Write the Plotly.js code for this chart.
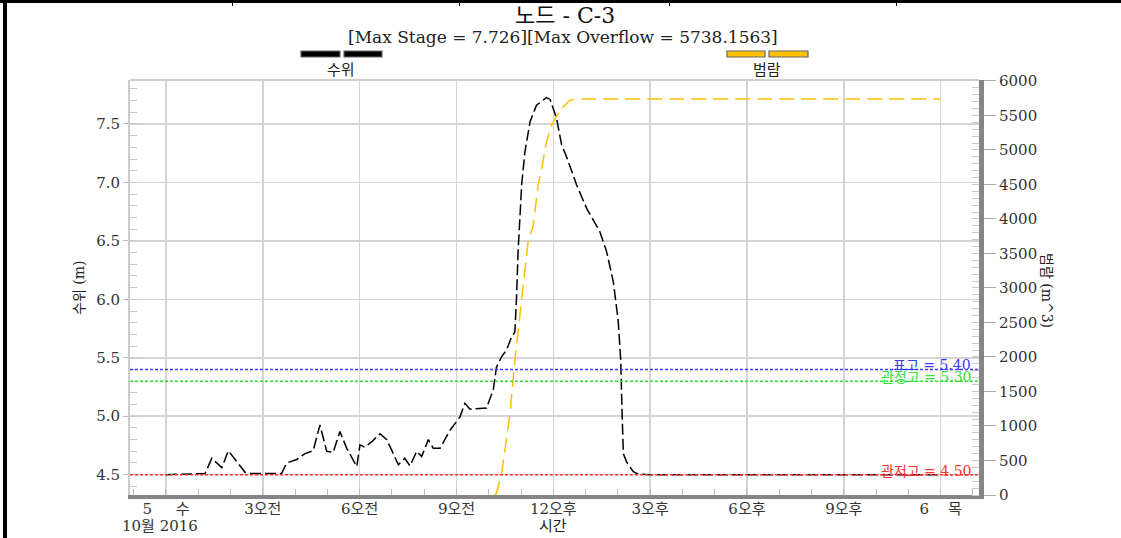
<!DOCTYPE html>
<html>
<head>
<meta charset="utf-8">
<script src="https://cdn.plot.ly/plotly-3.0.1.min.js"></script>
<style>
  html, body { margin: 0; padding: 0; background: #fff; }
  #wrap { position: relative; width: 1121px; height: 538px; overflow: hidden; }
  #chart { position: absolute; left: 0; top: 0; width: 1121px; height: 538px; }
  .frame { position: absolute; background: #000; }
</style>
</head>
<body>
<div id="wrap">
  <div id="chart"></div>
  <div class="frame" style="left:3px;top:0;width:4px;height:538px;"></div>
  <div class="frame" style="left:0;top:0;width:1121px;height:3px;"></div>
  <div class="frame" style="left:232px;top:0;width:1px;height:6px;"></div>
  <div class="frame" style="left:459px;top:0;width:1px;height:6px;"></div>
  <div class="frame" style="left:669px;top:0;width:1px;height:6px;"></div>
  <div class="frame" style="left:896px;top:0;width:1px;height:6px;"></div>
</div>
<script>
// ---------- data ----------
const chartTitle = "노드 - C-3";
const chartSubtitle = "[Max Stage = 7.726][Max Overflow = 5738.1563]";

// hours since 2016-10-05 00:00
const stageHours = [0, 1.21, 1.42, 1.73, 1.93, 2.45, 2.60, 3.58, 3.74, 4.05,
  4.31, 4.56, 4.77, 4.98, 5.18, 5.39, 5.60, 5.91, 6.01, 6.16,
  6.37, 6.63, 6.84, 7.20, 7.40, 7.56, 7.77, 7.92, 8.13, 8.28,
  8.49, 8.80, 9.11, 9.26, 9.42, 9.93, 10.14, 10.24, 10.40, 10.55,
  10.71, 10.81, 10.86, 10.91, 11.02, 11.12, 11.28, 11.48, 11.79, 11.90,
  12.10, 12.26, 12.41, 12.72, 13.03, 13.44, 13.65, 13.86, 14.01, 14.09,
  14.12, 14.17, 14.27, 14.48, 14.63, 15.0, 24.0];
const stageValues = [4.50, 4.51, 4.64, 4.56, 4.705, 4.52, 4.51, 4.51, 4.60, 4.63,
  4.68, 4.705, 4.925, 4.70, 4.69, 4.87, 4.725, 4.57, 4.755, 4.735,
  4.78, 4.85, 4.80, 4.585, 4.64, 4.575, 4.70, 4.655, 4.80, 4.725,
  4.725, 4.88, 4.995, 5.11, 5.06, 5.07, 5.225, 5.42, 5.51, 5.565,
  5.68, 5.72, 6.01, 6.41, 6.98, 7.26, 7.52, 7.66, 7.726, 7.71,
  7.55, 7.32, 7.22, 6.98, 6.78, 6.58, 6.41, 6.15, 5.82, 5.48,
  5.14, 4.68, 4.61, 4.525, 4.505, 4.50, 4.50];

const overflowHours = [10.19, 10.24, 10.40, 10.66, 10.81, 10.91, 11.07, 11.22, 11.38, 11.53,
  11.64, 11.79, 11.95, 12.21, 12.52, 12.72, 24.0];
const overflowValues = [0, 25, 315, 1184, 1956, 2366, 3043, 3670, 3913, 4492,
  4734, 5119, 5361, 5579, 5724, 5738.1563, 5738.1563];

const seriesNames = ["수위", "범람"];
const seriesColors = ["#000000", "#ffc000"];

const thresholdLabels = ["표고 = 5.40", "관정고 = 5.30", "관저고 = 4.50"];
const thresholdValues = [5.40, 5.30, 4.50];
const thresholdColors = ["#3a3aff", "#33e033", "#ff3030"];

const xTickVals = [0, 3, 6, 9, 12, 15, 18, 21, 24];
const xTickText = ["5\u00a0\u00a0\u00a0\u00a0\u00a0수", "3오전", "6오전", "9오전", "12오후", "3오후", "6오후", "9오후", "6\u00a0\u00a0\u00a0\u00a0목"];
const xDateLabel = "10월 2016";
const yLeftTicks = [4.5, 5.0, 5.5, 6.0, 6.5, 7.0, 7.5];
const yRightTicks = [0, 500, 1000, 1500, 2000, 2500, 3000, 3500, 4000, 4500, 5000, 5500, 6000];

const xAxisTitle = "시간";
const yLeftTitle = "수위 (m)";
const yRightTitle = "범람 (m^3)";

// ---------- layout helpers ----------
const W = 1121, H = 538;
const L = 130, R = 979, T = 80, B = 495;
const px = p => (p - L) / (R - L);
const py = p => (B - p) / (B - T);

const FONT = "'DejaVu Serif', 'Noto Sans CJK KR', serif";

const traces = [
  {
    x: stageHours, y: stageValues, name: seriesNames[0], type: "scatter", mode: "lines",
    line: { color: seriesColors[0], width: 1.5, dash: "11px,4px" }, yaxis: "y", hoverinfo: "x+y"
  },
  {
    x: overflowHours, y: overflowValues, name: seriesNames[1], type: "scatter", mode: "lines",
    line: { color: seriesColors[1], width: 1.5, dash: "15px,7px" }, yaxis: "y2", hoverinfo: "x+y"
  }
];

const shapes = [];
thresholdValues.forEach((v, i) => {
  shapes.push({ type: "line", xref: "paper", yref: "y", x0: 0, x1: 1, y0: v, y1: v,
    line: { color: thresholdColors[i], width: 1.5, dash: "3px,2px" }, layer: "above" });
});
shapes.push({ type: "line", xref: "paper", yref: "paper", x0: 0, x1: 1, y0: 1, y1: 1,
  line: { color: "#cfcfcf", width: 2 } });
function legendSample(x0, x1, color) {
  shapes.push({ type: "rect", xref: "paper", yref: "paper",
    x0: px(x0), x1: px(x1), y0: py(57), y1: py(51),
    fillcolor: color, line: { color: "#666", width: 1.2 } });
}
legendSample(301, 340, seriesColors[0]);
legendSample(344, 382, seriesColors[0]);
legendSample(727, 765, seriesColors[1]);
legendSample(769, 808, seriesColors[1]);

const annotations = [
  { text: chartTitle, x: px(565), y: py(15), xref: "paper", yref: "paper", showarrow: false,
    font: { family: FONT, size: 22, color: "#111" }, xanchor: "center", yanchor: "middle" },
  { text: chartSubtitle, x: px(563), y: py(37), xref: "paper", yref: "paper", showarrow: false,
    font: { family: FONT, size: 17, color: "#222" }, xanchor: "center", yanchor: "middle" },
  { text: seriesNames[0], x: px(341), y: py(70), xref: "paper", yref: "paper", showarrow: false,
    font: { family: FONT, size: 15, color: "#222" }, xanchor: "center", yanchor: "middle" },
  { text: seriesNames[1], x: px(767), y: py(70), xref: "paper", yref: "paper", showarrow: false,
    font: { family: FONT, size: 15, color: "#222" }, xanchor: "center", yanchor: "middle" },
  { text: xAxisTitle, x: px(553), y: py(526), xref: "paper", yref: "paper", showarrow: false,
    font: { family: FONT, size: 15, color: "#222" }, xanchor: "center", yanchor: "middle" },
  { text: xDateLabel, x: px(160), y: py(526), xref: "paper", yref: "paper", showarrow: false,
    font: { family: FONT, size: 15, color: "#333" }, xanchor: "center", yanchor: "middle" },
  { text: yLeftTitle, x: px(79), y: py(288), xref: "paper", yref: "paper", showarrow: false, textangle: -90,
    font: { family: FONT, size: 14, color: "#222" }, xanchor: "center", yanchor: "middle" },
  { text: yRightTitle, x: px(1047), y: py(290), xref: "paper", yref: "paper", showarrow: false, textangle: 90,
    font: { family: FONT, size: 14, color: "#222" }, xanchor: "center", yanchor: "middle" }
];
thresholdValues.forEach((v, i) => {
  annotations.push({ text: thresholdLabels[i], x: px(973), y: v, xref: "paper", yref: "y",
    showarrow: false, xanchor: "right", yanchor: "bottom", yshift: -6,
    font: { family: FONT, size: 14, color: thresholdColors[i] } });
});

const layout = {
  width: W, height: H,
  margin: { l: L, r: W - R, t: T, b: H - B, pad: 0 },
  paper_bgcolor: "#ffffff", plot_bgcolor: "#ffffff",
  showlegend: false,
  font: { family: FONT, size: 15, color: "#333" },
  xaxis: {
    range: [-1.115, 25.19], tickmode: "array", tickvals: xTickVals, ticktext: xTickText,
    showgrid: true, gridcolor: "#d4d4d4", gridwidth: 1.5, zeroline: false,
    showline: true, linecolor: "#858585", linewidth: 4,
    ticks: "", ticklabelstandoff: -3, tickfont: { family: FONT, size: 15, color: "#333" },
    minor: { dtick: 1, tick0: 0, ticks: "inside", ticklen: 6, tickcolor: "#bdbdbd", showgrid: false }
  },
  yaxis: {
    range: [4.326, 7.876], tickmode: "array", tickvals: yLeftTicks, tickformat: ".1f",
    showgrid: true, gridcolor: "#d4d4d4", gridwidth: 1.5, zeroline: false,
    showline: true, linecolor: "#cccccc", linewidth: 2,
    ticks: "outside", ticklen: 5, tickcolor: "#bbbbbb",
    tickfont: { family: FONT, size: 15, color: "#333" },
    minor: { dtick: 0.1, tick0: 4.5, ticks: "inside", ticklen: 7, tickcolor: "#c8c8c8", showgrid: false }
  },
  yaxis2: {
    overlaying: "y", side: "right", range: [0, 6014], tickmode: "array", tickvals: yRightTicks,
    showgrid: false, zeroline: false,
    showline: true, linecolor: "#858585", linewidth: 5,
    ticks: "outside", ticklen: 12, tickcolor: "#aaaaaa",
    tickfont: { family: FONT, size: 15, color: "#333" },
    minor: { dtick: 100, tick0: 0, ticks: "inside", ticklen: 7, tickcolor: "#c8c8c8", showgrid: false }
  },
  shapes: shapes,
  annotations: annotations
};

Plotly.newPlot("chart", traces, layout, { staticPlot: true, displayModeBar: false });
</script>
</body>
</html>
